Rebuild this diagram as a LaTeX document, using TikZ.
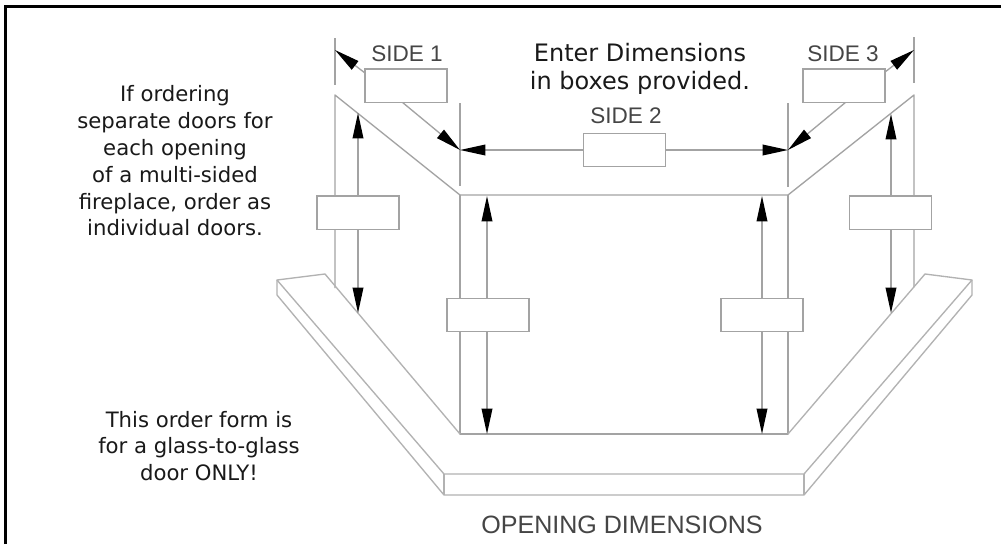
\documentclass[tikz,border=0pt]{standalone}
\usepackage{fontspec}
\setmainfont{DejaVu Sans}
\newfontfamily\labelfont{Liberation Sans}
\usetikzlibrary{arrows.meta}
\definecolor{linegray}{gray}{0.64}
\definecolor{traygray}{gray}{0.70}
\definecolor{labelgray}{gray}{0.27}
\tikzset{
  x=0.75pt,y=-0.75pt,
  every node/.style={inner sep=0pt,outer sep=0pt},
  edge/.style={draw=linegray,line width=1pt,line join=round},
  tray/.style={draw=traygray,line width=1pt,line join=round},
  dimbox/.style={draw=linegray,fill=white,line width=1pt,rectangle,minimum width=61.5pt,minimum height=25pt},
  dim/.style={draw=linegray,line width=1pt,-{Triangle[black,length=19pt,width=8pt]}},
  dimtwo/.style={draw=linegray,line width=1pt,{Triangle[black,length=19pt,width=8pt]}-{Triangle[black,length=19pt,width=8pt]}},
  note/.style={font=\fontsize{15.9pt}{20.1pt}\selectfont,align=center,text=black!90},
  noteb/.style={font=\fontsize{18pt}{21.5pt}\selectfont,align=center,text=black!90},
  sidelabel/.style={font=\labelfont\fontsize{16.9pt}{18pt}\selectfont,text=labelgray}
}
\begin{document}
\begin{tikzpicture}
\useasboundingbox (0,0) rectangle (1001,544);
\fill[white] (0,0) rectangle (1001,544);
% frame
\draw[black,line width=2pt] (5.5,544) -- (5.5,6.5) -- (1001,6.5);
% named points
\coordinate (tl1) at (335,38); \coordinate (tl2) at (335,85); \coordinate (tlp) at (335,50);
\coordinate (tm1) at (460,103); \coordinate (tm2) at (460,186); \coordinate (tmp) at (460,150);
\coordinate (tr1) at (788,103); \coordinate (tr2) at (788,187); \coordinate (trp) at (788,150);
\coordinate (trr1) at (914,37); \coordinate (trr2) at (914,83); \coordinate (trrp) at (914,50);
\coordinate (A) at (335,95); \coordinate (B) at (460,195); \coordinate (C) at (788,195); \coordinate (D) at (914,95);
\coordinate (E) at (460,434); \coordinate (F) at (788,434);
\coordinate (G) at (325,274); \coordinate (H) at (277,280); \coordinate (I) at (277,295);
\coordinate (J) at (444,474); \coordinate (K) at (804,474); \coordinate (L) at (444,495); \coordinate (M) at (804,495);
\coordinate (N) at (925,274); \coordinate (O) at (972,280); \coordinate (P) at (972,295);
\coordinate (aT) at (358,113); \coordinate (aB) at (358,313);
\coordinate (bT) at (891,114); \coordinate (bB) at (891,313);
\coordinate (cT) at (487,196); \coordinate (cB) at (487,434);
\coordinate (dT) at (762,196); \coordinate (dB) at (762,434);
\coordinate (lb) at (335,288); \coordinate (rb) at (914,287);
\coordinate (s1a) at (365,73); \coordinate (s1b) at (402,102);
\coordinate (s3a) at (885,72); \coordinate (s3b) at (846,102);
% outline
\draw[edge] (tl1) -- (tl2);
\draw[edge] (tm1) -- (tm2);
\draw[edge] (tr1) -- (tr2);
\draw[edge] (trr1) -- (trr2);
\draw[edge] (lb) -- (A) -- (B) -- (C) -- (D) -- (rb);
\draw[edge] (B) -- (E) -- (F) -- (C);
% tray
\draw[tray] (E) -- (G) -- (H) -- (J) -- (K) -- (O) -- (N) -- (F);
\draw[tray] (H) -- (I) -- (L) -- (M) -- (P) -- (O);
\draw[tray] (J) -- (L);
\draw[tray] (K) -- (M);
% dimension arrows
\draw[dimtwo] (aT) -- (aB);
\draw[dimtwo] (bT) -- (bB);
\draw[dimtwo] (cT) -- (cB);
\draw[dimtwo] (dT) -- (dB);
\draw[dimtwo] (tmp) -- (trp);
\draw[dim] (s1a) -- (tlp);
\draw[dim] (s1b) -- (tmp);
\draw[dim] (s3a) -- (trrp);
\draw[dim] (s3b) -- (trp);
% boxes
\node[dimbox] (b1) at (406,85.5) {};
\node[dimbox] (b2) at (624.5,150) {};
\node[dimbox] (b3) at (844,85.5) {};
\node[dimbox] (b4) at (358,212.5) {};
\node[dimbox] (b5) at (890.5,212.5) {};
\node[dimbox] (b6) at (488,315) {};
\node[dimbox] (b7) at (762,315) {};
% labels
\node[sidelabel] (s1) at (407,54) {SIDE 1};
\node[sidelabel] (s2) at (626,116) {SIDE 2};
\node[sidelabel] (s3) at (843,54) {SIDE 3};
\node[font=\labelfont\fontsize{18.8pt}{20pt}\selectfont,text=labelgray] (od) at (622,525) {OPENING DIMENSIONS};
\node[note] (n1) at (175,161) {If ordering\\separate doors for\\each opening\\of a multi-sided\\fireplace, order as\\individual doors.};
\node[note] (n2) at (199,446) {This order form is\\for a glass-to-glass\\door ONLY!};
\node[noteb] (n3) at (640,69) {Enter Dimensions\\in boxes provided.};
\end{tikzpicture}
\end{document}
